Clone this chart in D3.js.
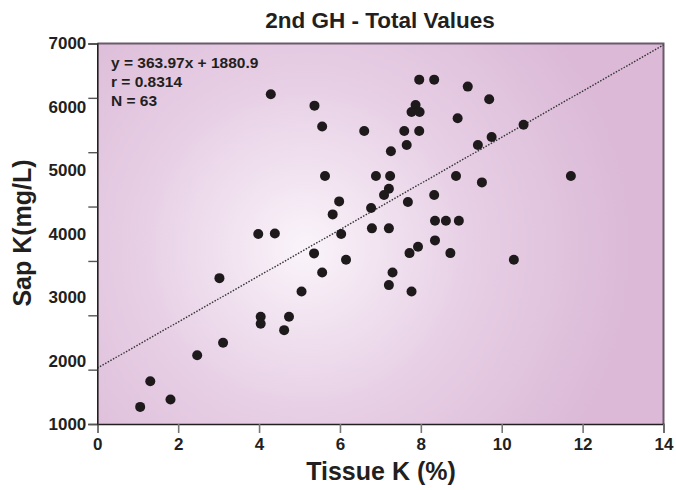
<!DOCTYPE html>
<html><head><meta charset="utf-8">
<script src="https://cdn.jsdelivr.net/npm/d3@7"></script>
<style>body{margin:0;background:#fff}svg{display:block}text{font-family:"Liberation Sans",Arial,sans-serif;font-weight:bold;fill:#231f20}</style>
</head><body><svg id="c" width="676" height="490"></svg>
<script>
const tissueK = [4.29,7.96,8.33,9.16,5.37,7.87,7.77,7.97,8.91,5.56,6.60,7.59,7.96,7.65,7.26,9.41,5.63,6.89,7.24,8.87,9.69,10.54,9.75,11.71,9.51,10.30,3.98,4.39,3.02,7.21,7.09,8.33,5.98,7.68,6.77,5.82,8.35,8.62,8.94,6.79,7.21,6.03,8.35,7.93,7.72,8.73,5.36,6.15,5.56,7.30,7.21,5.05,7.77,4.04,4.04,4.74,4.62,3.11,2.47,1.31,1.81,1.06];
const sapK = [6200,6430,6430,6320,6020,6030,5920,5920,5820,5690,5620,5620,5620,5400,5300,5400,4910,4910,4910,4910,6120,5720,5525,4910,4810,3590,3995,4005,3300,4710,4610,4610,4510,4500,4405,4305,4205,4205,4205,4085,4085,3995,3895,3795,3695,3695,3690,3590,3390,3390,3190,3090,3090,2690,2580,2690,2480,2280,2085,1675,1385,1270];
const xTicks = [0,2,4,6,8,10,12,14];
const yLabels = [1000,2000,3000,4000,5000,6000,7000];
const yTickMarks = [1000,1857,2714,3571,4429,5286,6143,7000];
const slope = 363.97, intercept = 1880.9;
const statsText = ["y = 363.97x + 1880.9","r = 0.8314","N = 63"];
const title = "2nd GH - Total Values", xTitle = "Tissue K (%)", yTitle = "Sap K(mg/L)";

const svg = d3.select("#c");
const L=97.3, R=663.5, T=43.5, B=424;
const x = d3.scaleLinear().domain([0,14]).range([L,R]);
const y = d3.scaleLinear().domain([1000,7000]).range([B,T]);

const defs = svg.append("defs");
const g = defs.append("radialGradient").attr("id","bg").attr("gradientUnits","userSpaceOnUse")
  .attr("cx",305).attr("cy",248).attr("r",330);
g.append("stop").attr("offset","0").attr("stop-color","#faf4fa");
g.append("stop").attr("offset","0.5").attr("stop-color","#e7cfe5");
g.append("stop").attr("offset","1").attr("stop-color","#dbb9d7");

svg.append("rect").attr("x",L).attr("y",T).attr("width",R-L).attr("height",B-T).attr("fill","url(#bg)");
svg.append("path").attr("d",`M${L},${T}H${R}V${B}`).attr("fill","none").attr("stroke","#6b5a6c").attr("stroke-width",2);

svg.append("line").attr("x1",x(0)).attr("y1",y(intercept)).attr("x2",x(14)).attr("y2",y(slope*14+intercept))
  .attr("stroke","#333").attr("stroke-width",1.4).attr("stroke-dasharray","1.5,1.5");

svg.append("g").selectAll("circle").data(tissueK.map((d,i)=>[d,sapK[i]])).join("circle")
  .attr("cx",d=>x(d[0])).attr("cy",d=>y(d[1])).attr("r",5).attr("fill","#1e1a1b");

const xa = svg.append("g").attr("transform",`translate(0,${B})`)
  .call(d3.axisBottom(x).tickValues(xTicks).tickSize(9).tickPadding(5).tickFormat(d3.format("d")));
xa.select(".domain").attr("stroke","#231f20").attr("stroke-width",1.6);
xa.selectAll(".tick line").attr("stroke","#777").attr("stroke-width",1.6);
xa.selectAll(".tick text").attr("font-size",17).attr("font-family",null).style("fill","#231f20");

const ya = svg.append("g").attr("transform",`translate(${L},0)`)
  .call(d3.axisLeft(y).tickValues(yTickMarks).tickSize(9).tickFormat(""));
ya.select(".domain").attr("stroke","#231f20").attr("stroke-width",1.6);
ya.selectAll(".tick line").attr("stroke","#555").attr("stroke-width",1.4);
const yl = svg.append("g").attr("transform",`translate(${L},0)`)
  .call(d3.axisLeft(y).tickValues(yLabels).tickSize(0).tickPadding(11).tickFormat(d3.format("d")));
yl.select(".domain").remove();
yl.selectAll(".tick text").attr("font-size",17).attr("font-family",null).style("fill","#231f20");

svg.append("g").selectAll("text").data(statsText).join("text")
  .attr("x",111).attr("y",(d,i)=>68+i*19).attr("font-size",15.5).text(d=>d);

svg.append("text").attr("x",380).attr("y",28).attr("text-anchor","middle").attr("font-size",22.5).text(title);
svg.append("text").attr("x",381).attr("y",480).attr("text-anchor","middle").attr("font-size",25).text(xTitle);
svg.append("text").attr("transform","translate(31,233) rotate(-90)").attr("text-anchor","middle").attr("font-size",25).text(yTitle);
</script></body></html>
